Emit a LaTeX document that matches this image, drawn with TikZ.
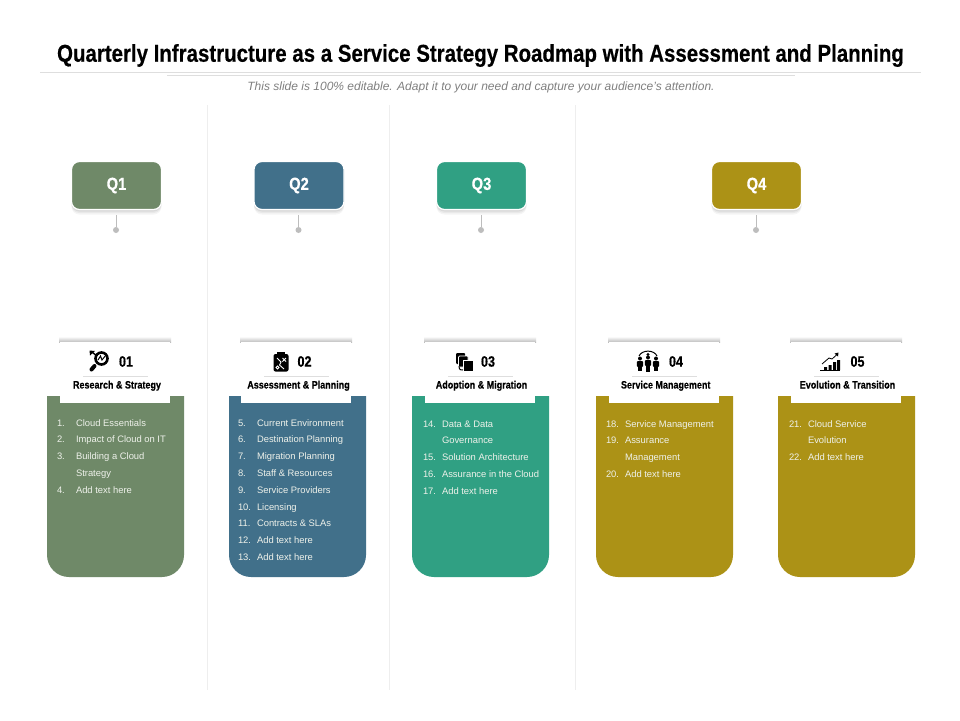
\documentclass[tikz,border=0pt]{standalone}
\usepackage{fontspec}
\setmainfont{Liberation Sans}
\newfontfamily\narrowfont[FakeStretch=0.86,BoldFeatures={FakeStretch=0.84,FakeBold=0.4}]{Liberation Sans}
\usetikzlibrary{positioning,shadows}

\definecolor{qgreen}{HTML}{6F8968}
\definecolor{qblue}{HTML}{41708A}
\definecolor{qteal}{HTML}{30A083}
\definecolor{qgold}{HTML}{AC9216}
\definecolor{rulegray}{HTML}{DEDEDE}
\definecolor{divgray}{HTML}{EEEEEE}
\definecolor{dotgray}{HTML}{BDBDBD}
\definecolor{listwhite}{HTML}{EEF1EA}

\begin{document}
\begin{tikzpicture}[x=1pt,y=-1pt,
  every node/.style={inner sep=0pt,outer sep=0pt},
  qbox/.style={draw=white,line width=1.2pt,rounded corners=8pt,minimum width=90pt,minimum height=48pt,
    text=white,font=\narrowfont\fontsize{17.5}{17.5}\selectfont\bfseries,
    drop shadow={opacity=0.08,shadow xshift=0pt,shadow yshift=-5pt},
    drop shadow={opacity=0.10,shadow xshift=0pt,shadow yshift=-3.5pt},
    drop shadow={opacity=0.14,shadow xshift=0pt,shadow yshift=-2pt}},
  qdot/.style={circle,fill=dotgray,minimum size=6pt},
  headbox/.style={fill=white,minimum width=110pt,minimum height=61pt},
  numtext/.style={font=\narrowfont\fontsize{15}{15}\selectfont\bfseries},
  headtext/.style={anchor=base,font=\narrowfont\fontsize{10.7}{10.7}\selectfont\bfseries},
  listnum/.style={anchor=base west,text=listwhite,font=\fontsize{9.4}{9.4}\selectfont},
  listtxt/.style={anchor=base west,text=listwhite,font=\fontsize{9.4}{9.4}\selectfont}
]
\useasboundingbox (0,0) rectangle (960,720);
\fill[white] (0,0) rectangle (960,720);

% the title
\node (title) at (480.5,55.5) {\narrowfont\fontsize{24.35}{24.35}\selectfont\bfseries Quarterly Infrastructure as a Service Strategy Roadmap with Assessment and Planning};
\node[text=black!50,font=\itshape\fontsize{12}{12}\selectfont] (subtitle) at (481,87) {This slide is 100\% editable. Adapt it to your need and capture your audience's attention.};
\draw[rulegray] (40,72.5) -- (921,72.5);
\draw[rulegray] (167,75.5) -- (795,75.5);

% the dividers
\foreach \x in {207,389,575}
  \draw[divgray] (\x,105) -- (\x,690);

% the quarters
\foreach \i/\x/\c in {1/116.5/qgreen,2/299/qblue,3/481.5/qteal,4/756.5/qgold}{
  \node[qbox,fill=\c] (q\i) at (\x,185.5) {Q\i};
  \node[qdot] (d\i) at (\x-0.5,230) {};
  \coordinate (t\i) at (\x-0.5,215);
  \draw[dotgray] (t\i) -- (d\i);
}

% the cards
\foreach \i/\x/\c in {1/47/qgreen,2/229/qblue,3/412/qteal,4/596/qgold,5/778/qgold}
  \fill[\c] (\x,396) [rounded corners=22pt] -- (\x,577) -- (\x+137,577) [sharp corners] -- (\x+137,396) -- cycle;

% the headers
\foreach \i/\x/\w/\m/\lab in {1/115/126/117/Research \& Strategy,2/296/304.5/298.5/Assessment \& Planning,3/480/488/481.5/Adoption \& Migration,4/664/676/665.7/Service Management,5/846/857.5/847.5/Evolution \& Transition}{
  \shade[top color=white,bottom color=black!28] (\x-56,336.5) rectangle (\x+56,342.5);
  \node[headbox] (h\i) at (\x,372.5) {};
  \node[numtext] (n\i) at (\w,361.5) {0\i};
  \draw[rulegray] (\x-32,376.5) -- (\x+33,376.5);
  \node[headtext] (l\i) at (\m,388.5) {\lab};
}

% the lists
\foreach \k/\y/\n/\t in {a/423/1./Cloud Essentials,b/439/2./Impact of Cloud on IT,c/456/3./Building a Cloud,d/473//Strategy,e/490/4./Add text here}{
  \node[listnum] (na\k) at (57,\y+3) {\n};
  \node[listtxt] (ta\k) at (76,\y+3) {\t};
}
\foreach \k/\y/\n/\t in {a/423/5./Current Environment,b/439/6./Destination Planning,c/456/7./Migration  Planning,d/473/8./Staff \& Resources,e/490/9./Service Providers,f/507/10./Licensing,g/523/11./Contracts \& SLAs,h/540/12./Add text here,i/557/13./Add text here}{
  \node[listnum] (nb\k) at (238,\y+3) {\n};
  \node[listtxt] (tb\k) at (257,\y+3) {\t};
}
\foreach \k/\y/\n/\t in {a/424/14./Data \& Data,b/440//Governance,c/457/15./Solution Architecture,d/474/16./Assurance in the Cloud,e/491/17./Add text here}{
  \node[listnum] (nc\k) at (423,\y+3) {\n};
  \node[listtxt] (tc\k) at (442,\y+3) {\t};
}
\foreach \k/\y/\n/\t in {a/424/18./Service Management,b/440/19./Assurance,c/457//Management,d/474/20./Add text here}{
  \node[listnum] (nd\k) at (606,\y+3) {\n};
  \node[listtxt] (td\k) at (625,\y+3) {\t};
}
\foreach \k/\y/\n/\t in {a/424/21./Cloud Service,b/440//Evolution,c/457/22./Add text here}{
  \node[listnum] (ne\k) at (789,\y+3) {\n};
  \node[listtxt] (te\k) at (808,\y+3) {\t};
}

% icon 1
\draw[black,line width=2.6pt] (101.5,358.5) circle (6);
\draw[black,line width=4pt,line cap=round] (94.5,366) -- (91.5,369.5);
\draw[black,line width=1pt] (98,360) -- (100.5,356) -- (102,360) -- (106,355);
\draw[black,line width=1.4pt] (97,356) -- (92,352);
\fill[black] (89.5,350.5) -- (95,351) -- (90,355.5) -- cycle;

% icon 2
\fill[black,rounded corners=2pt] (273.5,354) rectangle (288.5,371.5);
\fill[black] (277,352) rectangle (285,356);
\draw[white,line width=0.9pt] (282.5,358) -- (286,361.5) (286,358) -- (282.5,361.5);
\draw[white,line width=0.9pt] (277,358) -- (281,362) -- (279.5,365) -- (284,369);
\draw[white,line width=0.9pt] (277.5,367.5) circle (1.5);

% icon 3
\fill[black,rounded corners=1pt] (456,353) rectangle (465,364);
\draw[white,fill=black,line width=0.7pt,rounded corners=1pt] (458.5,356) rectangle (468,367);
\draw[white,fill=black,line width=0.7pt] (463,360.5) rectangle (473,371);
\draw[black,line width=1pt] (459,366) .. controls (459,370) and (461,370.5) .. (463,370);

% icon 4
\draw[black,line width=1pt] (639,356) .. controls (642,349.5) and (654,349.5) .. (657,356);
\foreach \x/\yy/\h in {640/361/10,648/360/12,656/361/10}{
  \fill[black] (\x,\yy-2.5) circle (2);
  \fill[black,rounded corners=1pt] (\x-3.2,\yy) rectangle (\x+3.2,\yy+6);
  \fill[black] (\x-2,\yy+5) rectangle (\x+2,\yy+\h);
}
\fill[black] (648,354.5) circle (1.6);

% icon 5
\fill[black] (824,367) rectangle (827,370) (828.5,365) rectangle (831.5,370) (833,362) rectangle (836,370) (837,360) rectangle (840,370);
\draw[black,line width=1pt] (820,370.5) -- (840,370.5);
\draw[black,line width=0.8pt] (822,364) -- (829,358) -- (832,359) -- (836.5,355);
\fill[black] (838.5,352.5) -- (838,356.5) -- (834.5,353.5) -- cycle;

\end{tikzpicture}
\end{document}
